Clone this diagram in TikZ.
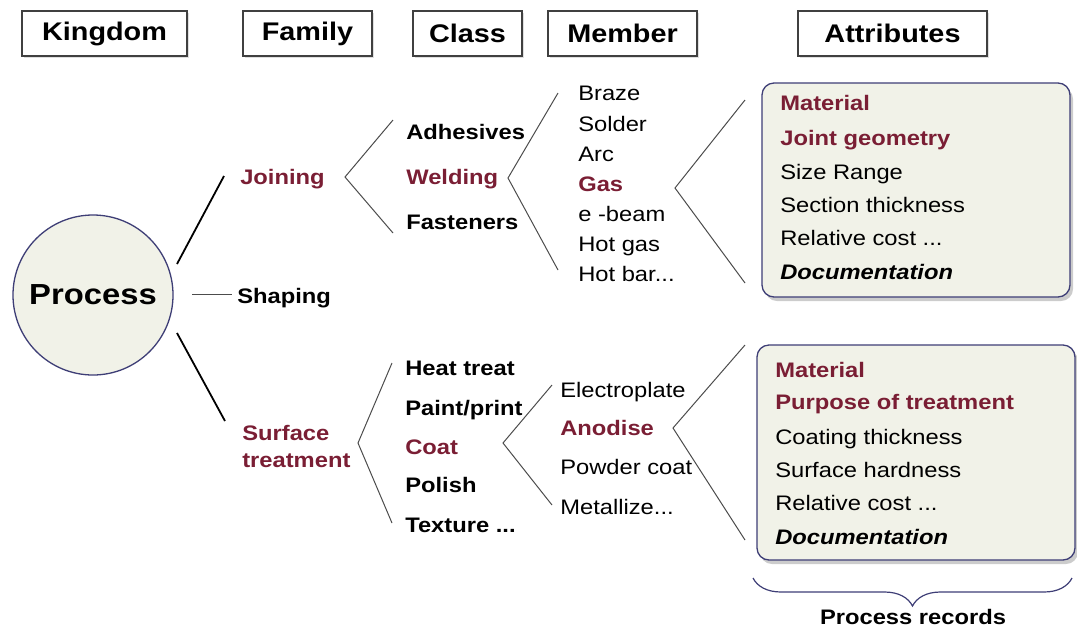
\documentclass[tikz,border=0pt]{standalone}
\usepackage{fontspec}
\setmainfont{Liberation Sans}[FakeStretch=1.13]
\usetikzlibrary{positioning,shadows,decorations.pathreplacing}

\definecolor{procred}{RGB}{122,30,52}
\definecolor{recblue}{RGB}{62,62,118}
\definecolor{recfill}{RGB}{241,242,232}

\begin{document}
\begin{tikzpicture}[
    x=1pt, y=-1pt,
    semithick,
    hdr/.style={draw=black!75, line width=1.2pt, fill=white, minimum height=45pt, inner sep=0pt,
        font=\fontsize{25.5}{30}\selectfont\bfseries,
        drop shadow={shadow xshift=1.5pt, shadow yshift=-2pt, fill=black!25}},
    lbl/.style={anchor=west, inner sep=0pt, text height=15pt, text depth=0pt, font=\fontsize{21}{25}\selectfont},
    bld/.style={lbl, font=\fontsize{21}{25}\selectfont\bfseries},
    hot/.style={bld, text=procred},
    twig/.style={draw=black!70, line width=1pt},
    limb/.style={draw=black, line width=1.8pt},
    record/.style={draw=recblue, line width=1.3pt, fill=recfill, rounded corners=12pt,
        drop shadow={shadow xshift=3pt, shadow yshift=-4pt, fill=black!40}}
]
\useasboundingbox (0,0) rectangle (1077,633);

% Headers
\node[hdr, minimum width=165pt] (KING)  at (104.5,33.5) {Kingdom};
\node[hdr, minimum width=129pt] (FAM)   at (307.5,33.5) {Family};
\node[hdr, minimum width=109pt] (CLS)   at (467.5,33.5) {Class};
\node[hdr, minimum width=149pt] (MEM)   at (622.5,33.5) {Member};
\node[hdr, minimum width=189pt] (ATTR)  at (892.5,33.5) {Attributes};

% Kingdom
\node[circle, draw=recblue, line width=1.3pt, fill=recfill, minimum size=160pt,
      font=\fontsize{29}{34}\selectfont\bfseries] (PROC) at (93,295) {Process};

% Families
\node[hot] (JOIN)  at (240,177) {Joining};
\node[bld] (SHAPE) at (237,296) {Shaping};
\node[anchor=west, inner sep=0pt, align=left, text=procred,
      font=\fontsize{21}{27}\selectfont\bfseries] (SURF) at (242,446) {Surface\\treatment};

\coordinate (pj) at (177,264);  \coordinate (jj) at (224,176);
\coordinate (ps) at (192,294);  \coordinate (ss) at (232,294);
\coordinate (pt) at (177,333);  \coordinate (tt) at (225,421);
\draw[limb] (pj) -- (jj);
\draw[twig] (ps) -- (ss);
\draw[limb] (pt) -- (tt);

% Classes of joining
\node[bld] (ADH)  at (406,132) {Adhesives};
\node[hot] (WELD) at (406,177) {Welding};
\node[bld] (FAST) at (406,222) {Fasteners};
\draw[twig] (393,120) coordinate (ja) -- (345,177) coordinate (jt) -- (393,233) coordinate (jb);

% Members of welding
\node[lbl] (BRZ) at (578,93)  {Braze};
\node[lbl] (SLD) at (578,124) {Solder};
\node[lbl] (ARC) at (578,154) {Arc};
\node[hot] (GAS) at (578,184) {Gas};
\node[lbl] (EBM) at (578,214) {e -beam};
\node[lbl] (HGS) at (578,244) {Hot gas};
\node[lbl] (HBR) at (578,274) {Hot bar...};
\draw[twig] (558,93) coordinate (wa) -- (508,178) coordinate (wt) -- (558,270) coordinate (wb);

% Classes of surface treatment
\node[bld] (HEAT) at (405,368) {Heat treat};
\node[bld] (PNT)  at (405,408) {Paint/print};
\node[hot] (COAT) at (405,447) {Coat};
\node[bld] (POL)  at (405,485) {Polish};
\node[bld] (TEX)  at (405,525) {Texture ...};
\draw[twig] (392,363) coordinate (sa) -- (358,443) coordinate (st) -- (392,523) coordinate (sb);

% Members of coat
\node[lbl] (ELP) at (560,390) {Electroplate};
\node[hot] (ANO) at (560,428) {Anodise};
\node[lbl] (PWD) at (560,467) {Powder coat};
\node[lbl] (MET) at (560,507) {Metallize...};
\draw[twig] (552,385) coordinate (ca) -- (503,443) coordinate (ct) -- (552,505) coordinate (cb);

% Attribute records
\draw[twig] (745,100) coordinate (ga) -- (675,188) coordinate (gt) -- (745,283) coordinate (gb);
\node[record, minimum width=308pt, minimum height=214pt] (REC1) at (916,190) {};
\node[hot] (r1a) at (780,103) {Material};
\node[hot] (r1b) at (780,138) {Joint geometry};
\node[lbl] (r1c) at (780,172) {Size Range};
\node[lbl] (r1d) at (780,205) {Section thickness};
\node[lbl] (r1e) at (780,238) {Relative cost ...};
\node[bld] (r1f) at (780,272) {\itshape Documentation};

\draw[twig] (745,345) coordinate (aa) -- (673,428) coordinate (at) -- (745,540) coordinate (ab);
\node[record, minimum width=318pt, minimum height=215pt] (REC2) at (916,452.5) {};
\node[hot] (r2a) at (775,370) {Material};
\node[hot] (r2b) at (775,402) {Purpose of treatment};
\node[lbl] (r2c) at (775,437) {Coating thickness};
\node[lbl] (r2d) at (775,470) {Surface hardness};
\node[lbl] (r2e) at (775,503) {Relative cost ...};
\node[bld] (r2f) at (775,537) {\itshape Documentation};

% Brace
\coordinate (bl) at (753,578);
\coordinate (br) at (1072,578);
\draw[decorate, decoration={brace, mirror, amplitude=28pt}, draw=recblue, line width=1.2pt] (bl) -- (br);
\node[inner sep=0pt, text height=15pt, text depth=0pt,
      font=\fontsize{21}{25}\selectfont\bfseries] (RECS) at (913,617) {Process records};

\end{tikzpicture}
\end{document}
